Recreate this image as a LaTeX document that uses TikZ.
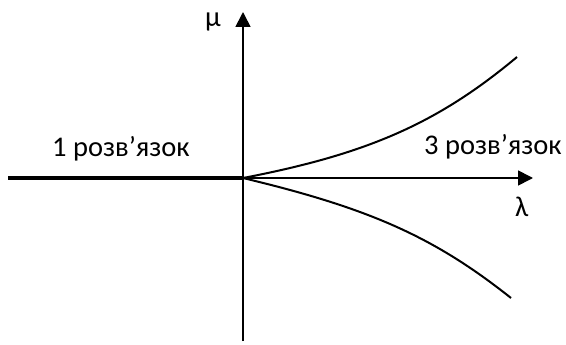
\documentclass[tikz,border=0pt]{standalone}
\usepackage{fontspec}
\setmainfont{Carlito}
\usetikzlibrary{arrows.meta,calc}
\begin{document}
\begin{tikzpicture}[x=1pt,y=-1pt,
  axis/.style={line width=1.7pt,-{Triangle[length=15pt,width=15pt]}},
  thickline/.style={line width=3.4pt},
  branch/.style={line width=2pt},
  lbl/.style={inner sep=0pt,font=\fontsize{28.5}{32}\selectfont}]
\useasboundingbox (0,0) rectangle (566,345);
\coordinate (O) at (243,178);
\coordinate (ybot) at (243,341);
\coordinate (ytop) at (243,12);
\coordinate (xleft) at (8,178);
\coordinate (xright) at (533,178);
\coordinate (up) at (517,57);
\coordinate (down) at (511,298);
\draw[axis] (ybot) -- (ytop);
\draw[axis] (O) -- (xright);
\draw[thickline] (xleft) -- (O);
\draw[branch] (O) .. controls ($(O)+(125,-24)$) and ($(O)+(195,-55)$) .. (up);
\draw[branch] (O) .. controls ($(O)+(125,30)$) and ($(O)+(190,58)$) .. (down);
\node[lbl,anchor=base west] (mu) at (205,27) {μ};
\node[lbl,anchor=base west] (la) at (515,216) {λ};
\node[lbl,anchor=base west] (one) at (52,157) {1 розв’язок};
\node[lbl,anchor=base west] (three) at (424,155) {3 розв’язок};
\end{tikzpicture}
\end{document}
